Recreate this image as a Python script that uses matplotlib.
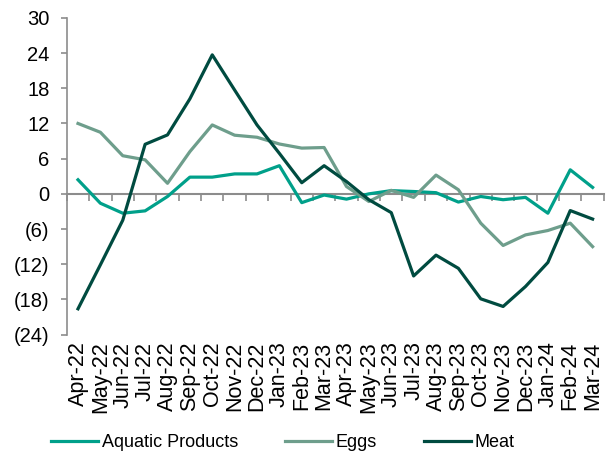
import matplotlib
matplotlib.use('Agg')
import matplotlib.pyplot as plt
from matplotlib.ticker import FixedLocator, FuncFormatter
import numpy as np

months = ['Apr-22', 'May-22', 'Jun-22', 'Jul-22', 'Aug-22', 'Sep-22', 'Oct-22', 'Nov-22',
          'Dec-22', 'Jan-23', 'Feb-23', 'Mar-23', 'Apr-23', 'May-23', 'Jun-23', 'Jul-23',
          'Aug-23', 'Sep-23', 'Oct-23', 'Nov-23', 'Dec-23', 'Jan-24', 'Feb-24', 'Mar-24']

aquatic = [2.4, -1.6, -3.3, -2.9, -0.45, 2.85, 2.85, 3.4, 3.4, 4.8, -1.5, -0.2,
           -0.9, 0.0, 0.55, 0.4, 0.2, -1.4, -0.45, -1.0, -0.6, -3.3, 4.1, 1.1]
eggs = [12.0, 10.5, 6.5, 5.8, 1.8, 7.2, 11.75, 10.0, 9.65, 8.5, 7.8, 7.9,
        1.25, -1.3, 0.6, -0.6, 3.2, 0.7, -5.0, -8.8, -7.0, -6.25, -5.0, -9.0]
meat = [-19.6, -12.1, -4.5, 8.45, 10.05, 16.2, 23.7, 17.7, 11.75, 6.9, 1.9, 4.8,
        2.1, -1.0, -3.2, -14.0, -10.45, -12.7, -17.9, -19.2, -15.8, -11.7, -2.85, -4.3]

plt.rcParams['font.family'] = ['Liberation Sans', 'DejaVu Sans']

fig = plt.figure(figsize=(6.13, 4.59), dpi=100)
ax = fig.add_axes([0.109, 0.271, 0.876, 0.690])

x = np.arange(len(months))
ax.plot(x, aquatic, color='#00A08A', lw=2.3, label='Aquatic Products')
ax.plot(x, eggs, color='#6E9E8C', lw=2.3, label='Eggs')
ax.plot(x, meat, color='#004B40', lw=2.3, label='Meat')

ax.set_xlim(-0.5, len(months) - 0.5)
ax.set_ylim(-24, 30)
ax.set_yticks(np.arange(-24, 31, 6))
ax.yaxis.set_major_formatter(FuncFormatter(lambda v, p: '(%d)' % abs(v) if v < 0 else '%d' % v))

grey = '#8C8C8C'
for s in ['top', 'right', 'bottom']:
    ax.spines[s].set_visible(False)
ax.spines['left'].set_color(grey)
ax.spines['left'].set_linewidth(1.2)
ax.tick_params(axis='y', colors=grey, length=4.5, width=1.2, pad=8,
               labelsize=14.5, labelcolor='black')

# month labels along the bottom edge
ax.set_xticks(x)
ax.set_xticklabels(months, rotation=90, fontsize=15.5)
ax.tick_params(axis='x', length=0, pad=5)

# zero line with ticks between categories
zero = ax.secondary_xaxis(24 / 54)
zero.spines['bottom'].set_color(grey)
zero.spines['bottom'].set_linewidth(1.5)
zero.xaxis.set_major_locator(FixedLocator(np.arange(-0.5, len(months), 1)))
zero.tick_params(axis='x', colors=grey, length=5, width=1.2, labelbottom=False)

fig.legend(loc='center', bbox_to_anchor=(0.461, 0.035), ncol=3, frameon=False,
           fontsize=13, handlelength=2.6, handletextpad=0.2, columnspacing=2.6)

fig.savefig('out.png', dpi=100)
